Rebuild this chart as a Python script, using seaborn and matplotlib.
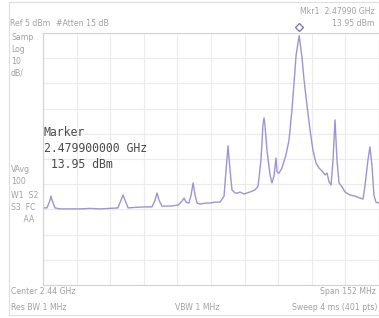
import matplotlib
matplotlib.use("Agg")
import matplotlib.pyplot as plt
import matplotlib.transforms as mtransforms
from matplotlib.patches import Rectangle
import numpy as np
import seaborn as sns

# trace (MHz, dBm)
freq_mhz = [2364.0, 2365.8, 2367.2, 2367.6, 2368.1, 2369.4, 2371.7, 2376.2, 2380.7, 2385.3,
            2389.8, 2394.3, 2397.9, 2399.3, 2400.2, 2401.1, 2402.5, 2405.6, 2410.1, 2413.3,
            2414.7, 2415.6, 2416.5, 2417.8, 2421.5, 2425.1, 2426.9, 2427.8, 2428.7, 2430.0,
            2431.0, 2431.9, 2432.8, 2433.7, 2435.0, 2437.3, 2439.5, 2441.8, 2444.1, 2445.9,
            2446.8, 2447.7, 2448.6, 2449.5, 2450.9, 2452.2, 2453.1, 2454.9, 2457.6, 2459.9,
            2461.3, 2462.6, 2463.5, 2464.0, 2464.4, 2465.3, 2466.7, 2467.6, 2468.5, 2469.4,
            2469.9, 2470.8, 2472.1, 2473.9, 2475.3, 2476.6, 2477.5, 2478.5, 2479.9, 2481.2,
            2482.1, 2483.4, 2484.8, 2486.1, 2487.5, 2488.9, 2490.7, 2491.6, 2492.5, 2493.4,
            2494.3, 2495.2, 2496.1, 2497.0, 2497.9, 2499.3, 2500.6, 2502.9, 2505.1, 2507.4,
            2508.8, 2509.7, 2511.0, 2511.9, 2512.8, 2513.7, 2514.6, 2516.0]
level_dbm = [-54.4, -54.4, -51.3, -49.7, -51.3, -54.4, -54.8, -54.8, -54.8, -54.6,
             -54.8, -54.6, -54.4, -51.3, -49.3, -51.3, -54.4, -54.2, -54.0, -54.0,
             -51.3, -48.5, -51.3, -53.7, -53.7, -53.3, -51.7, -50.5, -52.1, -52.5,
             -49.3, -44.5, -49.3, -52.5, -52.9, -52.5, -52.5, -52.1, -52.1, -49.7,
             -39.4, -29.8, -39.4, -47.3, -48.5, -48.5, -48.1, -48.9, -48.1, -47.3,
             -45.7, -35.4, -21.5, -18.7, -21.5, -31.4, -41.3, -44.5, -41.7, -34.6,
             -40.2, -40.6, -38.6, -33.4, -27.5, -15.6, -5.6, 6.3, 13.95, 5.0,
             -3.7, -13.6, -23.5, -31.4, -36.6, -38.6, -40.2, -41.3, -40.6, -44.1,
             -45.3, -35.4, -19.5, -35.4, -44.5, -46.1, -48.1, -49.3, -49.7, -50.5,
             -50.9, -45.3, -35.4, -30.2, -37.4, -49.3, -52.1, -52.5]

center_mhz = 2440
span_mhz = 152
top_dbm = 15
db_per_div = 10
marker_mhz = 2479.9
marker_dbm = 13.95

sns.set_theme(style="whitegrid")
plt.rcParams['font.family'] = ['DejaVu Sans']

W, H = 379, 318
fig = plt.figure(figsize=(W / 100, H / 100), dpi=100)
fig.patch.set_facecolor("white")

def px(x, y):
    return x / W, 1 - y / H

# plot area
l, b = px(43, 285)
r, t = px(379, 33)
ax = fig.add_axes([l, b, r - l, t - b])
ax.set_facecolor("white")

trace = "#a093cf"
sns.lineplot(x=freq_mhz, y=level_dbm, ax=ax, color=trace, linewidth=1.0)

x0 = center_mhz - span_mhz / 2
ax.set_xlim(x0, x0 + span_mhz)
ax.set_ylim(top_dbm - 10 * db_per_div, top_dbm)
ax.set_xticks(np.linspace(x0, x0 + span_mhz, 11))
ax.set_yticks(np.linspace(top_dbm - 10 * db_per_div, top_dbm, 11))
ax.set_xticklabels([])
ax.set_yticklabels([])
ax.tick_params(length=0)
ax.grid(True, color="#ebebeb", linewidth=0.8)
for s in ax.spines.values():
    s.set_color("#d2d2d2")
    s.set_linewidth(0.8)
ax.spines["right"].set_visible(False)

# marker diamond sitting just above the peak
off = mtransforms.offset_copy(ax.transData, fig=fig, x=0, y=6.5, units="points")
ax.plot([marker_mhz], [marker_dbm], marker="D", markersize=4, mfc="none",
        mec="#7a6fa8", mew=0.9, transform=off, clip_on=False)

# outer frame
fig.patches.append(Rectangle(px(9, 315), (W - 9) / W, (315 - 2) / H,
                             transform=fig.transFigure, fill=False,
                             edgecolor="#dedede", linewidth=0.8))

grey = "#a0a0a0"
small = 5.6

def label(x, y, s, ha="left", **kw):
    fig.text(*px(x, y), s, ha=ha, va="center", color=kw.pop("color", grey),
             fontsize=kw.pop("fontsize", small), **kw)

label(375, 12, "Mkr1  2.47990 GHz", ha="right")
label(375, 23, "13.95 dBm", ha="right")
label(10, 24, "Ref 5 dBm")
label(56, 24, "#Atten 15 dB")

for y, s in [(38, "Samp"), (50, "Log"), (61, "10"), (73, "dB/")]:
    label(11, y, s)
for y, s in [(170, "VAvg"), (181, "100"), (195, "W1  S2"), (207, "S3  FC"), (220, "     AA")]:
    label(11, y, s)

label(11, 292, "Center 2.44 GHz")
label(376, 292, "Span 152 MHz", ha="right")
label(11, 308, "Res BW 1 MHz")
label(197, 308, "VBW 1 MHz", ha="center")
label(377, 308, "Sweep 4 ms (401 pts)", ha="right")

mono = dict(color="#4a4a4a", fontsize=8.3, family="DejaVu Sans Mono")
label(44, 132, "Marker", **mono)
label(44, 149, "2.479900000 GHz", **mono)
label(44, 164, " 13.95 dBm", **mono)

fig.savefig("out.png", dpi=100)
